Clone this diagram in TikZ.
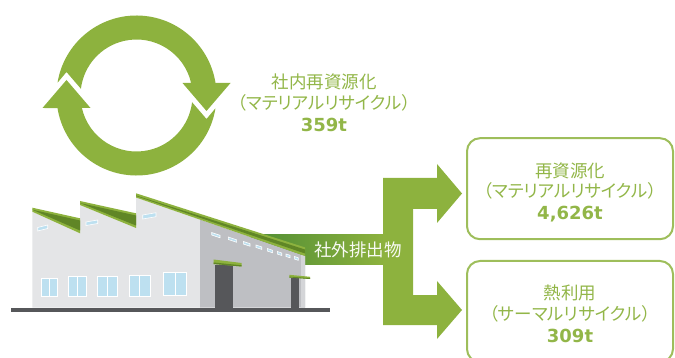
\documentclass[tikz,border=0pt]{standalone}
\usepackage{fontspec}
\usepackage{tikz}
\usetikzlibrary{positioning}
\newfontfamily\jpfont{Noto Sans CJK JP}
\newfontfamily\kanafont{Noto Sans CJK JP}[RawFeature=+palt]
\newfontfamily\numfont{DejaVu Sans}
\definecolor{leaf}{RGB}{141,178,62}
\definecolor{leaftext}{RGB}{146,182,72}
\definecolor{roofdark}{RGB}{96,134,38}
\definecolor{bandgreen}{RGB}{78,140,52}
\definecolor{wallwhite}{RGB}{228,229,231}
\definecolor{wallgray}{RGB}{190,191,195}
\definecolor{edgegray}{RGB}{212,213,216}
\definecolor{doorgray}{RGB}{86,87,90}
\definecolor{glass}{RGB}{189,224,240}
\newcommand{\tonnes}[1]{{\numfont\bfseries\fontsize{18}{20}\selectfont #1}}
\newcommand{\sash}[4]{\draw[pane] (#1,#2) rectangle (#3,#4);
  \draw[white,line width=0.9pt] ({(#1+#3)/2},#2) -- ({(#1+#3)/2},#4);}

\begin{document}
\begin{tikzpicture}[x=1pt,y=-1pt,
  flowtext/.style={text=leaftext,align=center,inner sep=0pt,
                   font=\jpfont\fontsize{17.5}{20.8}\selectfont},
  outcome/.style={draw=leaf!85,line width=2pt,rounded corners=13pt,
                  minimum width=206pt,minimum height=101pt},
  pane/.style={fill=glass,draw=white,line width=0.9pt},
  slit/.style={fill=glass,draw=white,line width=0.6pt}]
\useasboundingbox (0,0) rectangle (675,358);
\clip (0,0) rectangle (675,358);

% ------------- in-house cycle -------------
\begin{scope}[shift={(136.5,95.5)},yscale=-1]
  \fill[leaf] (170.8:80) arc[start angle=170.8,end angle=9,radius=80]
    -- (94,12.5) -- (70,-15.5) -- (46,12.5) -- (54.6,12.5)
    arc[start angle=12.9,end angle=173.1,radius=56] -- (-70,23.5) -- cycle;
\end{scope}
\begin{scope}[shift={(136.5,95.5)},yscale=-1,rotate=180]
  \fill[leaf] (170.8:80) arc[start angle=170.8,end angle=9,radius=80]
    -- (94,12.5) -- (70,-15.5) -- (46,12.5) -- (54.6,12.5)
    arc[start angle=12.9,end angle=173.1,radius=56] -- (-70,23.5) -- cycle;
\end{scope}
\node[flowtext] (inhouse) at (324,102.5)
  {社内再資源化\\{\kanafont （マテリアルリサイクル）}\\[1pt]\tonnes{359t}};

% ------------- outflow arrow -------------
\fill[leaf] (250,235) -- (383,235) -- (383,178) -- (437,178) -- (437,164)
  -- (462,193.5) -- (437,223) -- (437,209) -- (413,209) -- (413,295)
  -- (437,295) -- (437,281) -- (462,310) -- (437,339) -- (437,325)
  -- (383,325) -- (383,265) -- (250,265) -- cycle;
\shade[left color=bandgreen,right color=leaf] (250,235) rectangle (384,265);
\node[text=white!94!leaf,inner sep=0pt,font=\jpfont\fontsize{17.5}{20}\selectfont]
  (outflow) at (358,250) {社外排出物};

% ------------- factory -------------
\fill[wallwhite] (32.3,307.5) -- (32.3,211.7) -- (80,233.3) -- (80,205)
  -- (136,228) -- (136,197.5) -- (200,219.6) -- (200,307.5) -- cycle;
\fill[wallgray] (200,219.6) -- (305,256) -- (305,307.5) -- (200,307.5) -- cycle;
\fill[edgegray] (301,254.6) -- (305,256) -- (305,307.5) -- (301,307.5) -- cycle;
% saw-tooth roofs
\fill[leaf] (32.3,207.7) -- (80,218.3) -- (80,233.3) -- (32.3,211.7) -- cycle;
\fill[roofdark] (32.3,209.7) -- (80,220.5) -- (80,230.5) -- cycle;
\fill[leaf] (80,201) -- (136,213.3) -- (136,228) -- (80,205) -- cycle;
\fill[roofdark] (80,203) -- (136,215.5) -- (136,225.5) -- cycle;
\fill[leaf] (136,193.3) -- (305,247.4) -- (305,256) -- (136,197.5) -- cycle;
\fill[roofdark] (136,195.5) -- (305,249.5) -- (305,253.5) -- (136,196) -- cycle;
% high windows
\draw[slit] (37.7,227.5) -- (47.7,225) -- (47.7,228.5) -- (37.7,231) -- cycle;
\draw[slit] (86,222) -- (97.7,220) -- (97.7,223.5) -- (86,225.5) -- cycle;
\draw[slit] (142.7,215) -- (156,212.7) -- (156,216.7) -- (142.7,219) -- cycle;
\draw[slit] (211.7,232.5) -- ++(8.3,2.8) -- ++(0,2.5) -- ++(-8.3,-2.8) -- cycle;
\draw[slit] (228.3,237) -- ++(8.3,2.8) -- ++(0,2.5) -- ++(-8.3,-2.8) -- cycle;
\draw[slit] (243.3,241.5) -- ++(6.7,2.2) -- ++(0,2.5) -- ++(-6.7,-2.2) -- cycle;
\draw[slit] (256,245) -- ++(5.7,1.9) -- ++(0,2.5) -- ++(-5.7,-1.9) -- cycle;
\draw[slit] (267.3,248.5) -- ++(5.3,1.8) -- ++(0,2.5) -- ++(-5.3,-1.8) -- cycle;
\draw[slit] (277.3,251.5) -- ++(4.4,1.5) -- ++(0,2.5) -- ++(-4.4,-1.5) -- cycle;
\draw[slit] (286,254) -- ++(4,1.3) -- ++(0,2.5) -- ++(-4,-1.3) -- cycle;
\draw[slit] (294.3,256.5) -- ++(4,1.3) -- ++(0,2.5) -- ++(-4,-1.3) -- cycle;
% ground floor windows
\sash{41}{278.3}{57.7}{296.5}
\sash{68.3}{276.7}{86}{296.5}
\sash{97.3}{276}{117.3}{296.5}
\sash{129.3}{275}{150}{296}
\sash{163.7}{272.7}{186.7}{295}
% doors with canopies
\fill[doorgray] (215,265) rectangle (232.5,307.5);
\fill[leaf] (213.5,259.5) -- (241.7,263) -- (241.7,266.5) -- (213.5,264) -- cycle;
\fill[roofdark] (213.5,262.5) -- (241.7,265.3) -- (241.7,266.5) -- (213.5,264) -- cycle;
\fill[doorgray] (290.5,278) rectangle (299.3,307.5);
\fill[leaf] (289.3,274.8) -- (310,276.8) -- (310,279) -- (289.3,277.5) -- cycle;
\fill[roofdark] (289.3,276.6) -- (310,278.2) -- (310,279) -- (289.3,277.5) -- cycle;
\fill[doorgray] (11,307.5) rectangle (330,312);

% ------------- outcomes -------------
\node[outcome] (material) at (570,188.7) {};
\node[flowtext] (materialtext) at ([yshift=-3.7pt]material.center)
  {再資源化\\{\kanafont （マテリアルリサイクル）}\\[1pt]\tonnes{4,626t}};
\node[outcome] (thermal) at (570,311.5) {};
\node[flowtext] (thermaltext) at ([yshift=-2pt]thermal.center)
  {熱利用\\{\kanafont （サーマルリサイクル）}\\[1pt]\tonnes{309t}};
\end{tikzpicture}
\end{document}
